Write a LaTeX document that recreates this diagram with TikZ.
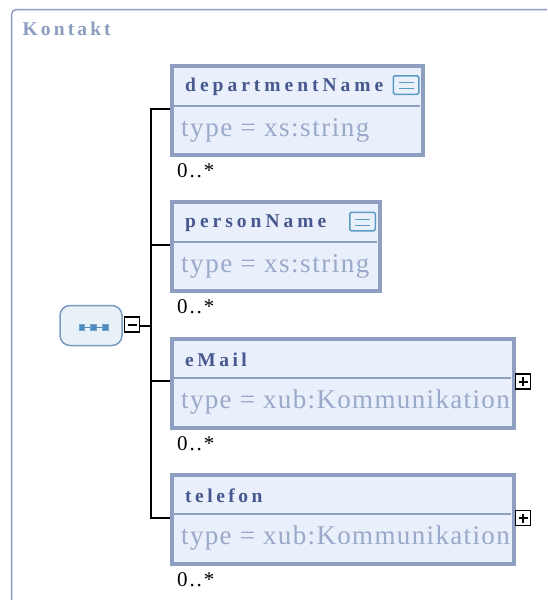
\documentclass[tikz,border=0pt]{standalone}
\usepackage{fontspec}
\setmainfont{Liberation Serif}
\definecolor{frameblue}{HTML}{8C9DBF}
\definecolor{boxblue}{HTML}{8E9FC2}
\definecolor{boxfill}{HTML}{E9F0FB}
\definecolor{titleblue}{HTML}{47588F}
\definecolor{typeblue}{HTML}{9AA9C8}
\definecolor{seqedge}{HTML}{7A9CBE}
\definecolor{seqfill}{HTML}{E8F0F8}
\definecolor{dotblue}{HTML}{4F8CBD}
\definecolor{docblue}{HTML}{5B9BC4}
\tikzset{
 elbox/.style={draw=boxblue,fill=boxfill,line width=3.6pt,minimum height=88.9pt,inner sep=0pt,anchor=north west},
 divider/.style={draw=boxblue,line width=2pt},
 wire/.style={draw=black,line width=1.7pt},
 eltitle/.style={anchor=west,inner sep=0pt,text=titleblue,font=\fontsize{19.5}{19.5}\selectfont\bfseries\addfontfeature{LetterSpace=18}},
 eltitlewide/.style={anchor=west,inner sep=0pt,text=titleblue,font=\fontsize{19.5}{19.5}\selectfont\bfseries\addfontfeature{LetterSpace=20.5}},
 eltype/.style={anchor=west,inner sep=0pt,text=typeblue,font=\fontsize{27}{27}\selectfont\addfontfeature{LetterSpace=5}},
 eltypewide/.style={anchor=west,inner sep=0pt,text=typeblue,font=\fontsize{27}{27}\selectfont\addfontfeature{LetterSpace=5.7}},
 card/.style={anchor=west,inner sep=0pt,text=black,font=\fontsize{21}{21}\selectfont\addfontfeature{LetterSpace=9}},
 toggle/.style={draw=black,fill=white,line width=1.7pt,minimum size=15pt,inner sep=0pt},
 docicon/.style={draw=docblue,fill=boxfill,line width=1.5pt,rounded corners=1.5pt,minimum width=25.5pt,minimum height=18.5pt,inner sep=0pt},
 seqdot/.style={draw=dotblue!80!white,fill=dotblue,minimum size=5.5pt,inner sep=0pt},
}
\begin{document}
\begin{tikzpicture}[x=1pt,y=-1pt]
\useasboundingbox (0,0) rectangle (547,600);
\fill[white] (0,0) rectangle (547,600);
\draw[frameblue,line width=1.5pt,rounded corners=5pt] (11.5,600) -- (11.5,9.5) -- (547,9.5);
\node[anchor=west,inner sep=0pt,text=frameblue,font=\fontsize{19.5}{19.5}\selectfont\bfseries\addfontfeature{LetterSpace=16}] (title) at (22.5,29) {Kontakt};

% sequence compositor
\node[draw=seqedge,fill=seqfill,line width=1.5pt,rounded corners=10pt,minimum width=62pt,minimum height=40pt,inner sep=0pt] (seq) at (91,325.5) {};
\node[seqdot] (d1) at (81.7,327.3) {};
\node[seqdot] (d2) at (93.3,327.3) {};
\node[seqdot] (d3) at (105,327.3) {};
\draw[dotblue,line width=.5pt] (d1) -- (d2) (d2) -- (d3);
\node[toggle] (minus) at (132,324.7) {};
\draw[black,line width=1.7pt] (127.5,324.7) -- (136.5,324.7);

% elements
\node[elbox,minimum width=251.4pt] (e1) at (170,64) {};
\node[elbox,minimum width=208.4pt] (e2) at (170,200) {};
\node[elbox,minimum width=342.4pt] (e3) at (170,337) {};
\node[elbox,minimum width=342.4pt] (e4) at (170,473) {};

% wires
\coordinate (bus) at (151,326);
\draw[wire] (minus.east |- bus) -- (bus);
\draw[wire] (e1.west |- 0,109) -- (151,109) -- (151,518) -- (e4.west |- 0,518);
\draw[wire] (151,245) -- (e2.west |- 0,245);
\draw[wire] (151,381) -- (e3.west |- 0,381);

% dividers
\draw[divider] (173,105.5) -- (420,105.5);
\draw[divider] (173,241.7) -- (377,241.7);
\draw[divider] (173,377.7) -- (511,377.7);
\draw[divider] (173,513.7) -- (511,513.7);

% titles
\node[eltitlewide] (t1) at (185,87) {departmentName};
\node[eltitlewide] (t2) at (185,223) {personName};
\node[eltitle] (t3) at (185,360) {eMail};
\node[eltitle] (t4) at (185,496) {telefon};

% types
\node[eltypewide] (y1) at (181,130.5) {type = xs:string};
\node[eltypewide] (y2) at (181,266.5) {type = xs:string};
\node[eltype] (y3) at (181,402.5) {type = xub:Kommunikation};
\node[eltype] (y4) at (181,538.5) {type = xub:Kommunikation};

% cardinalities
\node[card] (c1) at (177,171) {0..*};
\node[card] (c2) at (177,307) {0..*};
\node[card] (c3) at (177,444) {0..*};
\node[card] (c4) at (177,580) {0..*};

% doc icons
\node[docicon] (i1) at (406,85) {};
\draw[docblue,line width=.9pt] (398.5,82.5) -- (413.5,82.5) (398.5,88.5) -- (413.5,88.5);
\node[docicon] (i2) at (362.5,221.5) {};
\draw[docblue,line width=.9pt] (355,219) -- (370,219) (355,225) -- (370,225);

% plus toggles
\node[toggle] (p1) at (523,381.7) {};
\draw[black,line width=1.7pt] (518.5,381.7) -- (527.5,381.7) (523,377.2) -- (523,386.2);
\node[toggle] (p2) at (523,518) {};
\draw[black,line width=1.7pt] (518.5,518) -- (527.5,518) (523,513.5) -- (523,522.5);
\end{tikzpicture}
\end{document}
